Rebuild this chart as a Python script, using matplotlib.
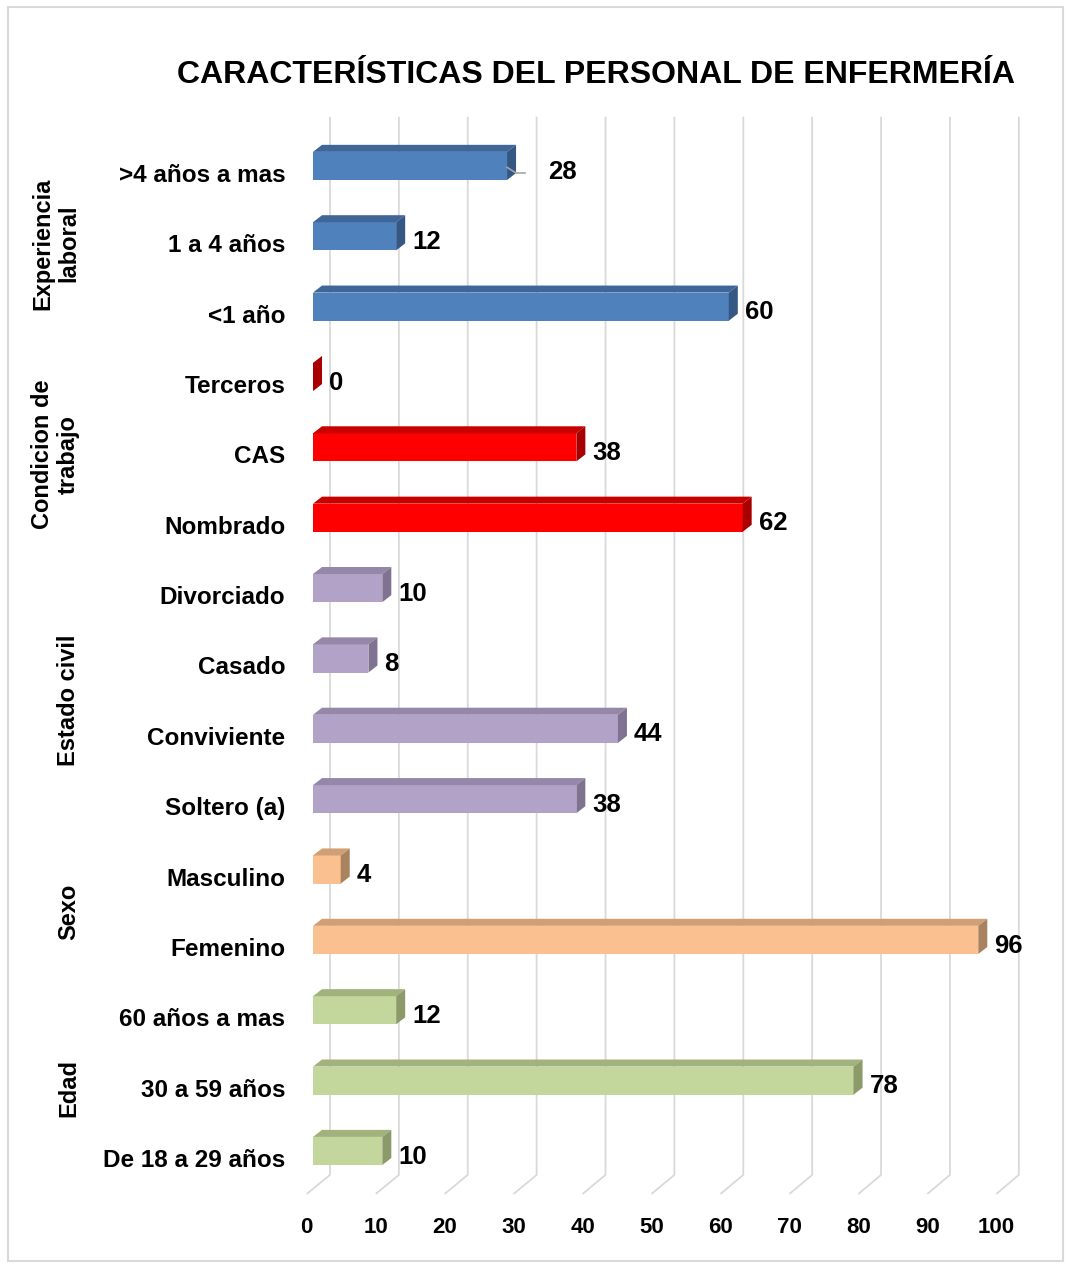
import numpy as np
import matplotlib
matplotlib.use("Agg")
import matplotlib.pyplot as plt
from matplotlib.patches import Polygon, Rectangle

# ---- data (bottom to top) ----
categories = ["De 18 a 29 años", "30 a 59 años", "60 años a mas",
              "Femenino", "Masculino",
              "Soltero (a)", "Conviviente", "Casado", "Divorciado",
              "Nombrado", "CAS", "Terceros",
              "<1 año", "1 a 4 años", ">4 años a mas"]
values = [10, 78, 12, 96, 4, 38, 44, 8, 10, 62, 38, 0, 60, 12, 28]
group_names = ["Edad", "Sexo", "Estado civil", "Condicion de\ntrabajo", "Experiencia\nlaboral"]
group_sizes = [3, 2, 4, 3, 3]
x_ticks = [0, 10, 20, 30, 40, 50, 60, 70, 80, 90, 100]
title = "CARACTERÍSTICAS DEL PERSONAL DE ENFERMERÍA"

# front / top / side shades per group
group_colors = [
    ("#C3D69B", "#A2B27D", "#8C9A6A"),
    ("#FAC090", "#D09F74", "#A9825F"),
    ("#B3A2C7", "#9587A8", "#7F7391"),
    ("#FF0000", "#C80000", "#A80000"),
    ("#4F81BD", "#3E6699", "#355784"),
]
label_shift = {">4 años a mas": 3.6}   # data label pushed out with leader line

plt.rcParams["font.family"] = ["Liberation Sans", "DejaVu Sans"]
plt.rcParams["font.weight"] = "bold"

W, H = 1070, 1268
fig = plt.figure(figsize=(W / 100, H / 100), dpi=100)
fig.patch.set_facecolor("white")
fig.patches.append(Rectangle((8 / W, 1 - 1261 / H), 1055 / W, 1254 / H,
                             transform=fig.transFigure, fill=False,
                             edgecolor="#d9d9d9", linewidth=1.5))

ax_top, ax_bot = 137.8, 1193.2
ax = fig.add_axes([313 / W, 1 - ax_bot / H, 693 / W, (ax_bot - ax_top) / H])
ax.set_xlim(0, 100)
ax.set_ylim(-0.5, len(categories) - 0.5)
for s in ax.spines.values():
    s.set_visible(False)
ax.set_facecolor("none")

# perspective constants (data units)
dx, dy = 1.3, 0.1          # bar depth
back_off, front_off = 2.45, -0.9
bar_h = 0.4
y_pos = np.arange(len(categories))

# back wall gridlines + floor slants
for v in x_ticks:
    xb = back_off + v * 0.994
    xf = front_off + v * 0.995
    ax.plot([xb, xb, xf], [14.8, -0.24, -0.51], color="#d9d9d9",
            lw=1.3, clip_on=False, zorder=1, solid_capstyle="butt")
    ax.text(xf, -0.99, str(v), ha="center", va="center", fontsize=16,
            family=["Liberation Sans Narrow", "Liberation Sans"],
            fontweight="bold")

# bar colors by group
fronts, tops, sides = [], [], []
for (f, t, s), n in zip(group_colors, group_sizes):
    fronts += [f] * n
    tops += [t] * n
    sides += [s] * n

yc = y_pos + 0.1
ax.barh(yc, values, height=bar_h, color=fronts, zorder=3, clip_on=False)
for y, v, tc, sc in zip(yc, values, tops, sides):
    yt, yb = y + bar_h / 2, y - bar_h / 2
    ax.add_patch(Polygon([(0, yt), (v, yt), (v + dx, yt + dy), (dx, yt + dy)],
                         closed=True, facecolor=tc, edgecolor="none",
                         zorder=3, clip_on=False))
    ax.add_patch(Polygon([(v, yb), (v + dx, yb + dy), (v + dx, yt + dy), (v, yt)],
                         closed=True, facecolor=sc, edgecolor="none",
                         zorder=3, clip_on=False))

# value labels
for cat, y, v in zip(categories, yc, values):
    shift = label_shift.get(cat, 0)
    xl = v + 2.3 + shift
    if shift:
        ax.plot([v, v + dx, v + dx + 1.3], [y - 0.02, y - 0.1, y - 0.1],
                color="#a6a6a6", lw=1.2, zorder=4, clip_on=False)
    ax.text(xl, y - 0.08, str(v), ha="left", va="center", fontsize=18.5,
            fontweight="bold", zorder=5)

# category labels
ax.set_xticks([])
ax.set_yticks(y_pos)
ax.set_yticklabels(categories, fontsize=17.5, fontweight="bold")
ax.tick_params(axis="y", length=0, pad=20)

# group labels
start = 0
for name, n in zip(group_names, group_sizes):
    mid = start + (n - 1) / 2
    ax.text(-33.6, mid, name, rotation=90, ha="right", va="center",
            multialignment="center", fontsize=17, fontweight="bold",
            linespacing=1.15)
    start += n

fig.text(596 / W, 1 - 75 / H, title, ha="center", va="center",
         fontsize=23, fontweight="bold")

fig.savefig("out.png", dpi=100)
